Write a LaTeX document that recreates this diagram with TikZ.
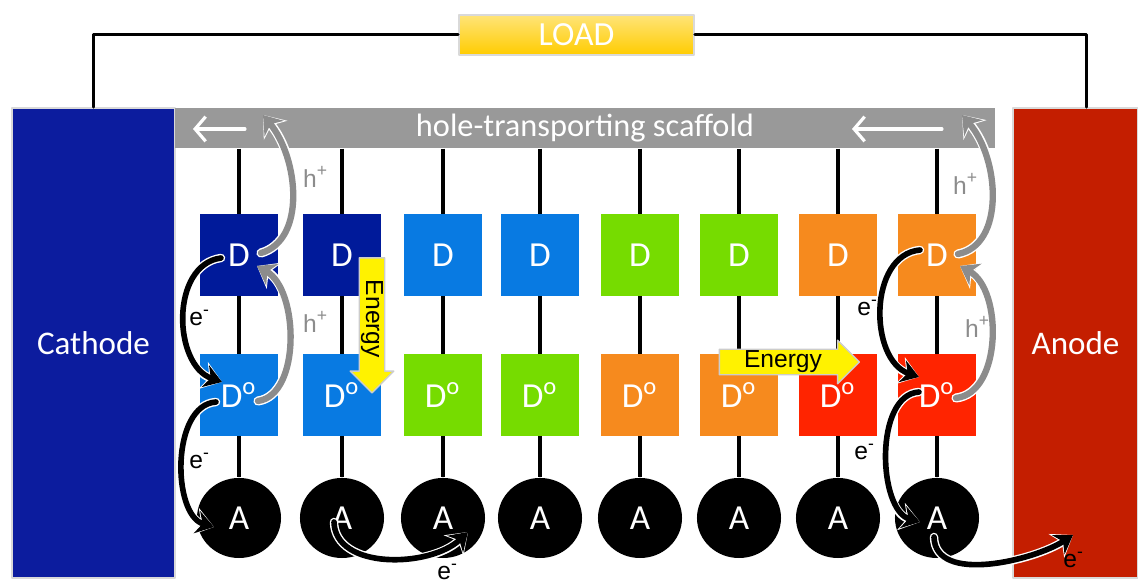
\documentclass[tikz,border=0pt]{standalone}
\usepackage{fontspec}
\setmainfont{Carlito}
\newfontfamily\helv{Liberation Sans}
\usetikzlibrary{arrows.meta,shapes.arrows,shapes.geometric,backgrounds}

\definecolor{cathblue}{RGB}{12,28,158}
\definecolor{anodered}{RGB}{196,30,0}
\definecolor{dblue}{RGB}{0,26,154}
\definecolor{lblue}{RGB}{8,122,226}
\definecolor{lgreen}{RGB}{118,220,0}
\definecolor{dorange}{RGB}{246,138,30}
\definecolor{dred}{RGB}{255,36,0}
\definecolor{scafgray}{RGB}{153,153,153}
\definecolor{holegray}{RGB}{140,140,140}
\definecolor{loadtop}{RGB}{255,228,120}
\definecolor{loadbot}{RGB}{255,204,0}

\tikzset{
	electrode/.style={minimum height=4.70cm,inner sep=0pt,text=white,draw=black!15,font=\fontsize{9.4}{11}\selectfont},
	donor/.style={minimum width=0.77cm,minimum height=0.82cm,inner sep=0pt,text=white,font=\fontsize{10}{12}\selectfont},
	acc/.style={ellipse,fill=black,minimum width=0.84cm,minimum height=0.80cm,inner sep=0pt,text=white,font=\fontsize{10}{12}\selectfont},
	stem/.style={line width=1.1pt},
	energy/.style={single arrow,fill=yellow,draw=black!20,inner sep=0.3pt,minimum width=0.39cm,single arrow head extend=0.09cm,font=\helv\fontsize{7}{8}\selectfont},
	lbl/.style={font=\helv\fontsize{7}{8}\selectfont,inner sep=0pt},
	flow/.style={white,line width=0.9pt,-{Straight Barb[length=3pt,width=7pt]}},
	hole/.style={draw=holegray,line width=1.8pt,-{Stealth[length=5pt,width=7pt]},
		preaction={draw=white,line width=2.6pt,-{Stealth[length=5.6pt,width=8.5pt]}}},
	elec/.style={draw=black,line width=1.6pt,-{Stealth[length=5pt,width=6.5pt]},
		preaction={draw=white,line width=2.4pt,-{Stealth[length=5.6pt,width=8pt]}}}
}

\begin{document}
\begin{tikzpicture}[x=0.01cm,y=-0.01cm,line join=round,line cap=round]
	\useasboundingbox (0,0) rectangle (1138,583);

	% electrodes, load and wire
	\node[electrode,fill=cathblue,minimum width=1.63cm] (cathode) at (93.5,343) {Cathode};
	\node[electrode,fill=anodered,minimum width=1.25cm] (anode) at (1075.5,343) {Anode};
	\node[top color=loadtop,bottom color=loadbot,draw=black!15,minimum width=2.35cm,minimum height=0.40cm,inner sep=0pt,text=white,font=\fontsize{9.6}{11}\selectfont] (load) at (576.5,35) {LOAD};
	\draw[line width=0.85pt] (cathode.north) |- (load.west);
	\draw[line width=0.85pt] (load.east) -| ([xshift=0.105cm]anode.north);

	% scaffold bar
	\node[fill=scafgray,minimum width=8.20cm,minimum height=0.40cm,inner sep=0pt,text=white,font=\fontsize{9.2}{11}\selectfont] (scaffold) at (585,128) {hole-transporting scaffold};
	\draw[flow] ([shift={(-340,1)}]scaffold.center) -- ([shift={(-392,1)}]scaffold.center);
	\draw[flow] ([shift={(357,1)}]scaffold.center) -- ([shift={(267,1)}]scaffold.center);

	% donor / acceptor columns
	\foreach \i/\x/\cd/\co in {1/239/dblue/lblue,2/342/dblue/lblue,3/443/lblue/lgreen,4/540/lblue/lgreen,
		5/640/lgreen/dorange,6/739/lgreen/dorange,7/838/dorange/dred,8/937/dorange/dred}{
		\node[donor,fill=\cd] (d\i) at (\x,255) {D};
		\node[donor,fill=\co] (o\i) at (\x,395) {D\textsuperscript{o}};
		\node[acc] (a\i) at (\x,518) {A};
	}
	\begin{scope}[on background layer]
		\foreach \i in {1,...,8}
			\draw[stem] (a\i.north |- scaffold.south) -- (a\i.north);
	\end{scope}

	% energy transfer
	\node[energy,rotate=-90,minimum height=1.35cm] (en1) at (372,319) {Energy};
	\node[energy,minimum height=1.40cm] (en2) at (783,362) {Energy};

	% charge flow, left end
	\coordinate (t1) at (263,115);
	\draw[hole] ([shift={(22,-2)}]d1.center) .. controls +(45,-13) and +(36,44) .. (t1);
	\draw[hole] ([shift={(19,6)}]o1.center) .. controls +(43,-6) and +(42,24) .. ([shift={(18,11)}]d1.center);
	\draw[elec] ([shift={(-18,3)}]d1.center) .. controls +(-51,7) and +(-49,-17) .. ([shift={(-17,-13)}]o1.center);
	\draw[elec] ([shift={(-23,7)}]o1.center) .. controls +(-45,3) and +(-42,-12) .. ([shift={(-25,9)}]a1.center);
	\draw[elec] ([shift={(-8,4)}]a2.center) .. controls +(1,48) and +(-38,36) .. ([shift={(25,14)}]a3.center);

	% charge flow, right end
	\coordinate (t3) at (962,115);
	\coordinate (t6) at (1073,535);
	\draw[hole] ([shift={(21,-1)}]d8.center) .. controls +(47,-9) and +(38,44) .. (t3);
	\draw[hole] ([shift={(19,3)}]o8.center) .. controls +(46,-5) and +(43,24) .. ([shift={(23,11)}]d8.center);
	\draw[elec] ([shift={(-17,-5)}]d8.center) .. controls +(-52,5) and +(-50,-17) .. ([shift={(-18,-18)}]o8.center);
	\draw[elec] ([shift={(-18,-3)}]o8.center) .. controls +(-45,3) and +(-42,-12) .. ([shift={(-17,4)}]a8.center);
	\draw[elec] ([shift={(-3,19)}]a8.center) .. controls +(1,48) and +(-38,25) .. (t6);

	% carrier labels
	\node[lbl,text=holegray] (hp1) at (316,177) {h\textsuperscript{+}};
	\node[lbl,text=holegray] (hp2) at (316,322) {h\textsuperscript{+}};
	\node[lbl,text=holegray] (hp3) at (966,184) {h\textsuperscript{+}};
	\node[lbl,text=holegray] (hp4) at (978,327) {h\textsuperscript{+}};
	\node[lbl] (em1) at (200,318) {e\textsuperscript{-}};
	\node[lbl] (em2) at (200,461) {e\textsuperscript{-}};
	\node[lbl] (em3) at (868,308) {e\textsuperscript{-}};
	\node[lbl] (em4) at (865,452) {e\textsuperscript{-}};
	\node[lbl] (em5) at (448,572) {e\textsuperscript{-}};
	\node[lbl] (em6) at (1074,560) {e\textsuperscript{-}};
\end{tikzpicture}
\end{document}
